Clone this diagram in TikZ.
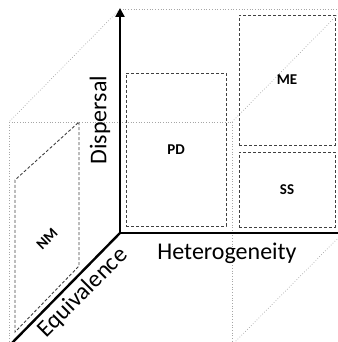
\documentclass[tikz,border=0pt]{standalone}
\usepackage{fontspec}
\setmainfont{Carlito}
\usetikzlibrary{positioning, arrows.meta}

\begin{document}
\begin{tikzpicture}[
        x=1pt, y=-1pt,
        axis/.style={line width=2.4pt, black},
        edge/.style={gray!70, dotted, line width=0.7pt},
        region/.style={rectangle, draw=black!75, dashed, dash pattern=on 3pt off 2pt, line width=0.9pt, inner sep=0pt, font=\fontsize{15}{17}\selectfont\bfseries},
        axislabel/.style={font=\fontsize{24}{28}\selectfont, inner sep=0pt}
    ]
    \useasboundingbox (0,0) rectangle (337,342);

    % CUBO DE REFERENCIA
    \coordinate (back1) at (120,9);
    \coordinate (back2) at (343,9);
    \coordinate (back3) at (343,233);
    \coordinate (front1) at (9,122);
    \coordinate (front2) at (232,122);
    \coordinate (front3) at (232,345);
    \coordinate (front4) at (9,345);
    \draw[edge] (back1) -- (back2);
    \draw[edge] (back1) -- (front1);
    \draw[edge] (front1) -- (front2);
    \draw[edge] (front2) -- (back2);
    \draw[edge] (front1) -- (front4);
    \draw[edge] (front2) -- (front3);
    \draw[edge] (front3) -- (back3);

    % REGIONES
    \node[region, minimum width=100pt, minimum height=153pt] (pd) at (176,149.5) {PD};
    \node[region, minimum width=96pt, minimum height=130pt] (me) at (287,80) {ME};
    \node[region, minimum width=96pt, minimum height=75pt] (ss) at (287,189.5) {SS};
    \coordinate (nm1) at (79,122);
    \coordinate (nm2) at (79,266);
    \coordinate (nm3) at (15,332);
    \coordinate (nm4) at (15,180);
    \draw[black!75, dashed, dash pattern=on 3pt off 2pt, line width=0.9pt] (nm1) -- (nm2) -- (nm3) -- (nm4) -- cycle;
    \node[font=\fontsize{15}{17}\selectfont\bfseries, rotate=45] (nm) at (47,239) {NM};

    % EJES
    \coordinate (origin) at (120,233);
    \coordinate (dispTop) at (120,8);
    \coordinate (hetEnd) at (340,233);
    \coordinate (equEnd) at (11,344);
    \draw[axis, -{Triangle[width=9pt, length=9pt]}] (origin) -- (dispTop);
    \draw[axis] (origin) -- (hetEnd);
    \draw[axis] (origin) -- (equEnd);

    % ETIQUETAS DE LOS EJES
    \node[axislabel, rotate=90] (disp) at (100,120) {Dispersal};
    \node[axislabel] (het) at (227,253) {Heterogeneity};
    \node[axislabel, rotate=45] (equ) at (83,293) {Equivalence};
\end{tikzpicture}
\end{document}
